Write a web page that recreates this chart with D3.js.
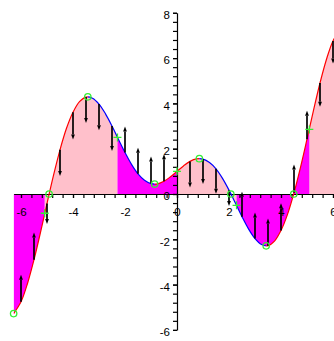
<!DOCTYPE html>
<html>
<head>
<meta charset="utf-8">
<script src="https://cdn.jsdelivr.net/npm/d3@7"></script>
<style>
  body { margin: 0; background: #fff; }
  svg { display: block; }
  text { font-family: "Liberation Sans", Arial, sans-serif; font-size: 11.5px; fill: #000; }
</style>
</head>
<body>
<svg id="chart" width="334" height="341"></svg>
<script>
// curve samples
const xs = [-6.2832,-6,-5.75,-5.5,-5.25,-5,-4.75,-4.5,-4.25,-4,-3.75,-3.5,-3.25,-3,-2.75,-2.5,-2.25,-2,-1.75,-1.5,-1.25,-1,-0.75,-0.5,-0.25,0,
            0.25,0.5,0.75,1,1.25,1.5,1.75,2,2.25,2.5,2.75,3,3.25,3.5,3.75,4,4.25,4.5,4.75,5,5.25,5.5,5.75,6,6.2832];
const ys = [-5.28,-4.76,-3.95,-2.90,-1.69,-0.42,0.82,1.95,2.90,3.61,4.08,4.28,4.23,3.97,3.54,3.00,2.41,1.83,1.31,0.89,0.61,0.46,0.45,0.56,0.76,1.00,
            1.24,1.44,1.55,1.54,1.39,1.11,0.69,0.17,-0.41,-1.00,-1.54,-1.97,-2.23,-2.28,-2.08,-1.61,-0.90,0.05,1.18,2.42,3.69,4.90,5.95,6.76,7.28];

// marked points: endpoints, roots, extrema (circles) and inflections (crosses)
const circleX = [-6.2832,-4.92,-3.43,-0.86,0.86,2.07,3.43,4.49,6.2832];
const circleY = [-5.28,0,4.29,0.44,1.56,0,-2.29,0,7.28];
const inflX = [-5.09,-2.29,0,2.29,5.09];
const inflY = [-0.85,2.50,1.00,-0.50,2.85];

// intervals
const concaveUp = [[-6.2832,-5.09],[-2.29,0],[2.29,5.09]];
const concaveDown = [[-5.09,-2.29],[0,2.29],[5.09,6.2832]];
const rising = [[-6.2832,-3.43],[-0.86,0.86],[3.43,6.2832]];
const falling = [[-3.43,-0.86],[0.86,3.43]];

// vertical arrows from the curve
const arrowX = [-6,-5.5,-5,-4.5,-4,-3.5,-3,-2.5,-2,-1.5,-1,-0.5,0.5,1,1.5,2,2.5,3,3.5,4,4.5,5,5.5,6];
const arrowLen = [1.2,1.2,-0.9,-1.15,-1.2,-1.15,-1.15,-1.1,1.15,1.15,1.2,1.2,-1.15,-1.1,-1.1,-0.7,1.1,1.15,1.2,1.2,1.25,1.25,-1.05,-1.0];

const xTicks = [-6,-4,-2,0,2,4,6];
const yTicks = [-6,-4,-2,0,2,4,6,8];

const svg = d3.select("#chart");
const x = d3.scaleLinear().domain([-2*Math.PI, 2*Math.PI]).range([177 - 26*2*Math.PI, 177 + 26*2*Math.PI]);
const y = d3.scaleLinear().domain([-6, 8]).range([329.9, 12.8]);

const pts = xs.map((d, i) => [d, ys[i]]);
const curve = d3.curveCatmullRom.alpha(0.5);

const defs = svg.append("defs");
function clipFor(id, intervals) {
  const cp = defs.append("clipPath").attr("id", id);
  intervals.forEach(iv => {
    cp.append("rect")
      .attr("x", x(iv[0])).attr("width", x(iv[1]) - x(iv[0]))
      .attr("y", 0).attr("height", 341);
  });
  return "url(#" + id + ")";
}

const area = d3.area().x(d => x(d[0])).y0(y(0)).y1(d => y(d[1])).curve(curve);
svg.append("path").datum(pts).attr("d", area).attr("fill", "#ffc0cb").attr("clip-path", clipFor("cDown", concaveDown));
svg.append("path").datum(pts).attr("d", area).attr("fill", "#ff00ff").attr("clip-path", clipFor("cUp", concaveUp));

// axes
const minorX = d3.range(-15, 16).map(k => k * 0.4);
const minorY = d3.range(-15, 21).map(k => k * 0.4);

const gx = svg.append("g").attr("transform", `translate(0,${y(0)})`);
gx.call(d3.axisBottom(x).tickValues(minorX).tickFormat("").tickSize(4).tickSizeOuter(0));
const gxl = svg.append("g").attr("transform", `translate(0,${y(0)})`);
gxl.call(d3.axisBottom(x).tickValues(xTicks).tickFormat(d => String(d)).tickSize(4).tickPadding(10));
gxl.select(".domain").remove();

const gy = svg.append("g").attr("transform", `translate(${x(0)},0)`);
gy.call(d3.axisLeft(y).tickValues(minorY).tickFormat("").tickSize(4).tickSizeOuter(0));
const gyl = svg.append("g").attr("transform", `translate(${x(0)},0)`);
gyl.call(d3.axisLeft(y).tickValues(yTicks).tickFormat(d => String(d)).tickSize(4).tickPadding(3));
gyl.select(".domain").remove();
gyl.selectAll("text").attr("dy", "0.5em");

svg.selectAll(".domain, .tick line").attr("stroke", "#000").attr("stroke-width", 1.2);
svg.selectAll(".tick text").attr("font-family", null).attr("font-size", null);

// curve: red where rising, blue where falling
const line = d3.line().x(d => x(d[0])).y(d => y(d[1])).curve(curve);
svg.append("path").datum(pts).attr("d", line).attr("fill", "none").attr("stroke", "#ff0000").attr("stroke-width", 1.2).attr("clip-path", clipFor("rise", rising));
svg.append("path").datum(pts).attr("d", line).attr("fill", "none").attr("stroke", "#0000ff").attr("stroke-width", 1.2).attr("clip-path", clipFor("fall", falling));

// arrows
const head = 5;
const arrows = svg.append("g");
arrowX.forEach((ax, i) => {
  const base = ys[xs.indexOf(ax)];
  const px = x(ax), y0 = y(base), y1 = y(base + arrowLen[i]);
  const dir = y1 > y0 ? 1 : -1;
  arrows.append("line")
    .attr("x1", px).attr("x2", px).attr("y1", y0).attr("y2", y1 - dir * head)
    .attr("stroke", "#000").attr("stroke-width", 1.7);
  arrows.append("path")
    .attr("d", `M${px},${y1} L${px - 1.9},${y1 - dir * head} L${px + 1.9},${y1 - dir * head} Z`)
    .attr("fill", "#000");
});

// markers
const marks = svg.append("g").attr("stroke", "#33ee33").attr("fill", "none").attr("stroke-width", 1.3);
circleX.forEach((cx, i) => {
  marks.append("circle").attr("cx", x(cx)).attr("cy", y(circleY[i])).attr("r", 3.2);
});
inflX.forEach((ix, i) => {
  const px = x(ix), py = y(inflY[i]);
  marks.append("path").attr("d", `M${px - 4},${py} H${px + 4} M${px},${py - 4} V${py + 4}`);
});
</script>
</body>
</html>
